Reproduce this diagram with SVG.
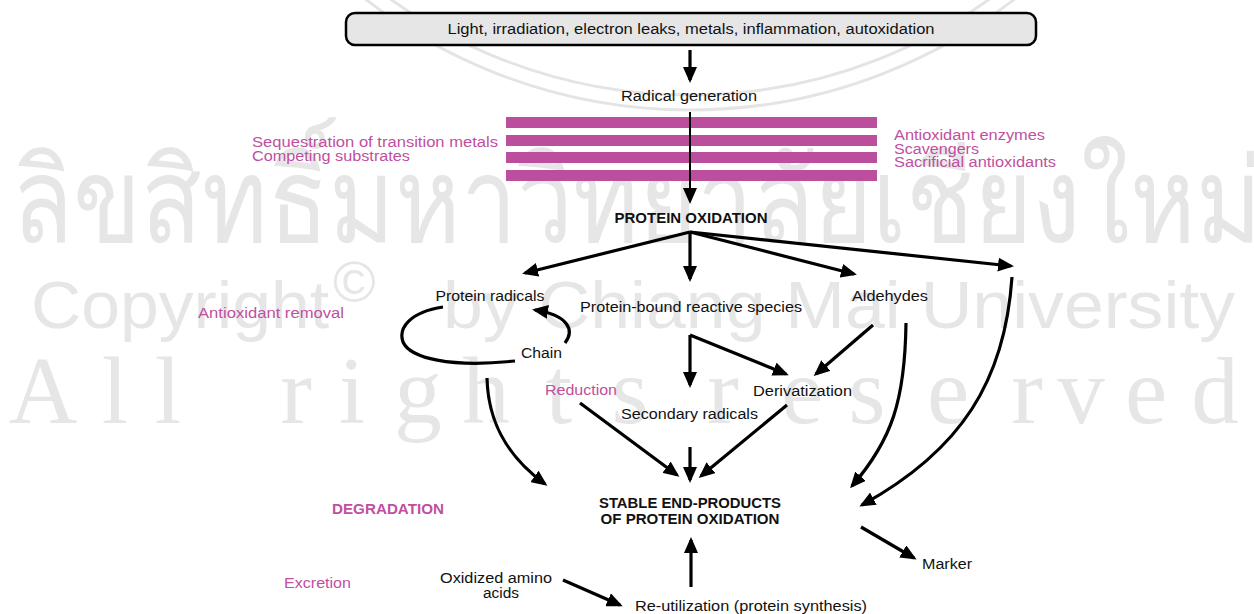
<svg xmlns="http://www.w3.org/2000/svg" width="1254" height="614" viewBox="0 0 1254 614">
<style>
.wm{fill:#e6e6e6;}
.wma{fill:none;stroke:#e4e4e4;stroke-width:3;}
.t{font-family:"Liberation Sans",Arial,sans-serif;font-size:14px;fill:#111;}
.b{font-weight:bold;}
.p{fill:#bf4fa0;}
.c{text-anchor:middle;}
.ln{fill:none;stroke:#000;stroke-width:3.2;stroke-linecap:butt;}
.thin{fill:none;stroke:#000;stroke-width:2;}
.bar{fill:#bb4f9e;}
</style>
<defs>
<marker id="ah" viewBox="0 0 16 14" refX="13" refY="7" markerWidth="16" markerHeight="14" markerUnits="userSpaceOnUse" orient="auto">
<path d="M0,0 L16,7 L0,14 z" fill="#000"/>
</marker>
</defs>
<rect width="1254" height="614" fill="#fff"/>
<g id="watermark">
<circle class="wma" cx="690" cy="-420" r="530"/>
<circle class="wma" cx="690" cy="-420" r="515"/>
<text class="wm" x="12" y="242" font-family="'DejaVu Sans',sans-serif" font-size="118" textLength="1250" lengthAdjust="spacingAndGlyphs">ลิขสิทธิ์มหาวิทยาลัยเชียงใหม่</text>
<text class="wm" x="31" y="328" font-family="'Liberation Sans',sans-serif" font-size="67" textLength="298" lengthAdjust="spacingAndGlyphs">Copyright</text>
<text class="wm" x="333" y="302" font-family="'Liberation Sans',sans-serif" font-size="58">©</text>
<text class="wm" x="443" y="328" font-family="'Liberation Sans',sans-serif" font-size="67" textLength="792" lengthAdjust="spacingAndGlyphs">by Chiang Mai University</text>
<text class="wm" y="423" font-family="'Liberation Serif',serif" font-size="95" text-anchor="middle" x="43 115 168 296 352 418 486 559 630 723 802 867 948 1027 1081 1146 1215">Allrightsreserved</text>
</g>
<g id="n-sources">
<rect x="346" y="13" width="690" height="32" rx="9" fill="#e6e6e6" stroke="#000" stroke-width="2.5"/>
<text class="t c" x="691" y="34" textLength="487" lengthAdjust="spacingAndGlyphs">Light, irradiation, electron leaks, metals, inflammation, autoxidation</text>
</g>
<g id="n-radical"><text class="t c" x="689" y="101" textLength="136" lengthAdjust="spacingAndGlyphs">Radical generation</text></g>
<g id="n-barrier">
<rect class="bar" x="506" y="117" width="371" height="11"/>
<rect class="bar" x="506" y="135" width="371" height="11"/>
<rect class="bar" x="506" y="152" width="371" height="11"/>
<rect class="bar" x="506" y="170" width="371" height="11"/>
</g>
<g id="n-left-defenses">
<text class="t p" x="252" y="147" textLength="246" lengthAdjust="spacingAndGlyphs">Sequestration of transition metals</text>
<text class="t p" x="252" y="161" textLength="158" lengthAdjust="spacingAndGlyphs">Competing substrates</text>
</g>
<g id="n-right-defenses">
<text class="t p" x="894" y="140" textLength="151" lengthAdjust="spacingAndGlyphs">Antioxidant enzymes</text>
<text class="t p" x="894" y="154" textLength="85" lengthAdjust="spacingAndGlyphs">Scavengers</text>
<text class="t p" x="894" y="167" textLength="162" lengthAdjust="spacingAndGlyphs">Sacrificial antioxidants</text>
</g>
<g id="n-protein-oxidation"><text class="t b c" x="691" y="223" textLength="153" lengthAdjust="spacingAndGlyphs">PROTEIN OXIDATION</text></g>
<g id="n-protein-radicals"><text class="t c" x="490" y="301" textLength="109" lengthAdjust="spacingAndGlyphs">Protein radicals</text></g>
<g id="n-protein-bound"><text class="t c" x="691" y="312" textLength="222" lengthAdjust="spacingAndGlyphs">Protein-bound reactive species</text></g>
<g id="n-aldehydes"><text class="t c" x="890" y="301" textLength="76" lengthAdjust="spacingAndGlyphs">Aldehydes</text></g>
<g id="n-antioxidant-removal"><text class="t p" x="198" y="318" textLength="146" lengthAdjust="spacingAndGlyphs">Antioxidant removal</text></g>
<g id="n-chain"><text class="t" x="521" y="358" textLength="41" lengthAdjust="spacingAndGlyphs">Chain</text></g>
<g id="n-reduction"><text class="t p" x="545" y="395" textLength="72" lengthAdjust="spacingAndGlyphs">Reduction</text></g>
<g id="n-derivatization"><text class="t" x="753" y="396" textLength="99" lengthAdjust="spacingAndGlyphs">Derivatization</text></g>
<g id="n-secondary"><text class="t" x="621" y="419" textLength="137" lengthAdjust="spacingAndGlyphs">Secondary radicals</text></g>
<g id="n-degradation"><text class="t b p" x="332" y="514" textLength="112" lengthAdjust="spacingAndGlyphs">DEGRADATION</text></g>
<g id="n-stable">
<text class="t b c" x="690" y="508" textLength="182" lengthAdjust="spacingAndGlyphs">STABLE END-PRODUCTS</text>
<text class="t b c" x="690" y="524" textLength="179" lengthAdjust="spacingAndGlyphs">OF PROTEIN OXIDATION</text>
</g>
<g id="n-excretion"><text class="t p" x="284" y="588" textLength="67" lengthAdjust="spacingAndGlyphs">Excretion</text></g>
<g id="n-oxidized">
<text class="t c" x="496" y="583" textLength="112" lengthAdjust="spacingAndGlyphs">Oxidized amino</text>
<text class="t c" x="501" y="598" textLength="36" lengthAdjust="spacingAndGlyphs">acids</text>
</g>
<g id="n-reutil"><text class="t" x="635" y="611" textLength="232" lengthAdjust="spacingAndGlyphs">Re-utilization (protein synthesis)</text></g>
<g id="n-marker"><text class="t" x="922" y="569" textLength="50" lengthAdjust="spacingAndGlyphs">Marker</text></g>
<g id="connectors">
<path class="ln" d="M690,50 L690,80" marker-end="url(#ah)"/>
<path class="thin" d="M690,112 L690,201" marker-end="url(#ah)"/>
<path class="ln" d="M690,232 L525,273" marker-end="url(#ah)"/>
<path class="ln" d="M690,232 L690,279" marker-end="url(#ah)"/>
<path class="ln" d="M690,232 L854,274" marker-end="url(#ah)"/>
<path class="ln" d="M690,232 L1011,266" marker-end="url(#ah)"/>
<path class="ln" d="M443,307 C410,312 398,328 403,342 C410,358 450,368 515,361"/>
<path class="ln" d="M565,343 C575,330 568,315 535,310" marker-end="url(#ah)"/>
<path class="ln" d="M487,378 C488,420 505,455 545,484" marker-end="url(#ah)"/>
<path class="ln" d="M690,335 L690,385" marker-end="url(#ah)"/>
<path class="ln" d="M690,335 L786,374" marker-end="url(#ah)"/>
<path class="ln" d="M873,325 L816,374" marker-end="url(#ah)"/>
<path class="ln" d="M906,323 C905,400 892,440 852,486" marker-end="url(#ah)"/>
<path class="ln" d="M1012,277 C1005,380 962,450 862,505" marker-end="url(#ah)"/>
<path class="ln" d="M580,403 L677,475" marker-end="url(#ah)"/>
<path class="ln" d="M690,447 L690,480" marker-end="url(#ah)"/>
<path class="ln" d="M787,405 L701,476" marker-end="url(#ah)"/>
<path class="ln" d="M691,587 L691,540" marker-end="url(#ah)"/>
<path class="ln" d="M563,580 L620,605" marker-end="url(#ah)"/>
<path class="ln" d="M861,527 L914,558" marker-end="url(#ah)"/>
</g>
</svg>
